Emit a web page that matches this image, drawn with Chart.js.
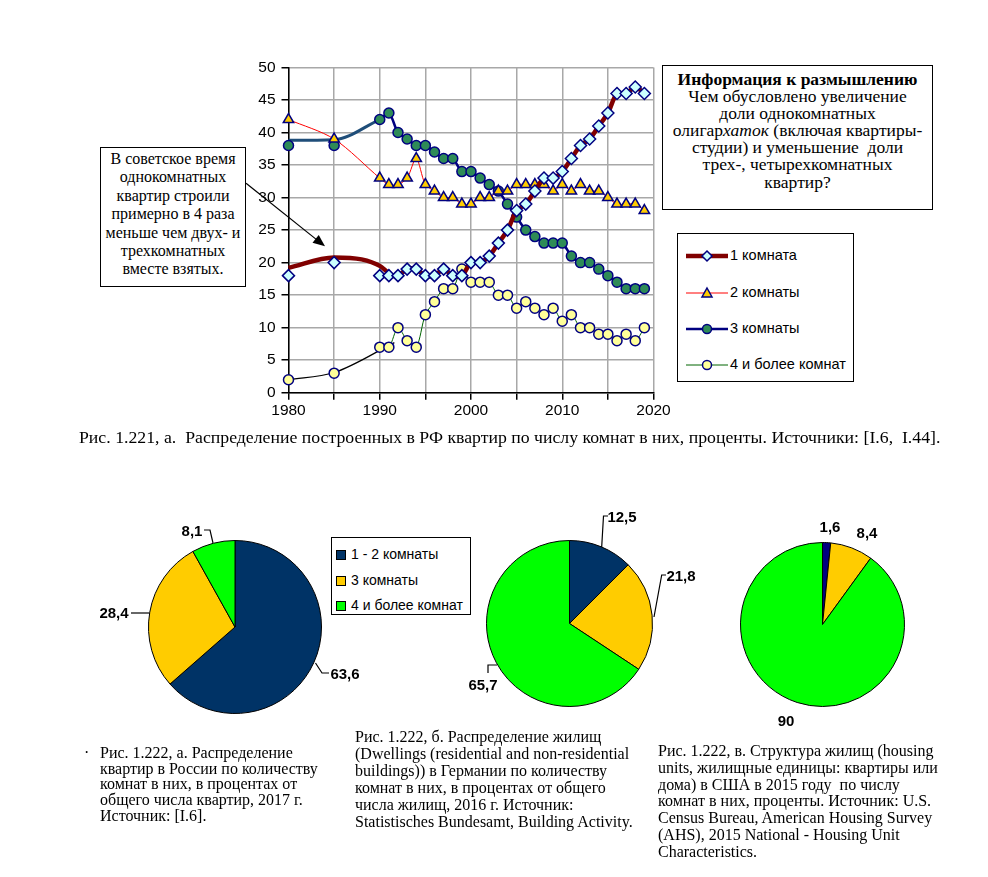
<!DOCTYPE html>
<html lang="ru">
<head>
<meta charset="utf-8">
<title>Распределение квартир по числу комнат</title>
<script src="https://cdn.jsdelivr.net/npm/chart.js@4.4.0/dist/chart.umd.min.js"></script>
<style>
  html, body { margin: 0; padding: 0; background: #fff; }
  body { width: 988px; height: 877px; position: relative; overflow: hidden;
         font-family: "Liberation Serif", "Times New Roman", serif; color: #000; }
  canvas { position: absolute; }
  .box { position: absolute; border: 1.5px solid #000; background: #fff; box-sizing: border-box; text-align: center; }
  .box div { white-space: nowrap; }
  #note { left: 100px; top: 147px; width: 146px; height: 140px; font-size: 16px; line-height: 18.4px; padding-top: 2px; }
  #info { left: 662px; top: 65px; width: 271px; height: 145px; font-size: 17.5px; line-height: 17.1px; padding-top: 5px; }
  #legend { left: 677px; top: 233px; width: 177px; height: 149px; text-align: left;
            font-family: "Liberation Sans", Arial, sans-serif; font-size: 14.5px; }
  #legend .item { position: absolute; left: 8px; height: 16px; line-height: 16px; }
  #legend svg { vertical-align: middle; margin-right: 2px; }
  #pieLegend { left: 331px; top: 537px; width: 140px; height: 78px; text-align: left;
               font-family: "Liberation Sans", Arial, sans-serif; font-size: 14px; }
  #pieLegend .item { position: absolute; left: 4px; height: 16px; line-height: 16px; }
  #pieLegend .sw { display: inline-block; width: 8px; height: 8px; border: 1px solid #000; margin-right: 5px; vertical-align: -1px; }
  .plabel { position: absolute; transform: translate(-50%, -50%); font-family: "Liberation Sans", Arial, sans-serif;
            font-weight: bold; font-size: 15px; white-space: nowrap; }
  .cap { position: absolute; font-size: 16px; white-space: nowrap; }
  #cap1 { left: 79px; top: 429px; transform-origin: 0 0; }
  #bullet { left: 84px; top: 745px; line-height: 15.7px; }
  #capA { left: 100px; top: 745px; line-height: 15.7px; }
  #capB { left: 355px; top: 728px; line-height: 17px; }
  #capC { left: 658px; top: 743px; line-height: 16.8px; }
</style>
</head>
<body>

<canvas id="lineChart" width="988" height="430" style="left:0;top:0"></canvas>

<div class="box" id="note">
  <div>В советское время</div>
  <div>однокомнатных</div>
  <div>квартир строили</div>
  <div>примерно в 4 раза</div>
  <div>меньше чем двух- и</div>
  <div>трехкомнатных</div>
  <div>вместе взятых.</div>
</div>

<div class="box" id="info">
  <div><b>Информация к размышлению</b></div>
  <div>Чем обусловлено увеличение</div>
  <div>доли однокомнатных</div>
  <div>олигар<i>хаток</i> (включая квартиры-</div>
  <div>студии) и уменьшение&nbsp; доли</div>
  <div>трех-, четырехкомнатных</div>
  <div>квартир?</div>
</div>

<div class="box" id="legend"></div>

<div class="cap" id="cap1">Рис. 1.221, а.&nbsp; Распределение построенных в РФ квартир по числу комнат в них, проценты. Источники: [I.6,&nbsp; I.44].</div>

<canvas id="pie1" width="174" height="174" style="left:148px;top:540px"></canvas>
<canvas id="pie2" width="167" height="167" style="left:486px;top:540px"></canvas>
<canvas id="pie3" width="165" height="165" style="left:740px;top:542px"></canvas>

<div class="box" id="pieLegend"></div>

<svg width="988" height="877" style="position:absolute;left:0;top:0;pointer-events:none">
  <g stroke="#000" stroke-width="1.2" fill="none">
    <polyline points="204,530 210,530 213,543"/>
    <polyline points="131,613 149.5,613"/>
    <polyline points="315.5,663 322,673 329,673"/>
    <polyline points="608,516 603.5,516 601.7,547"/>
    <polyline points="666,575 661.7,575 654,617"/>
    <polyline points="488,673 488,665 497,665"/>
  </g>
</svg>

<div id="pieLabels"></div>

<div class="cap" id="bullet">·</div>
<div class="cap" id="capA">Рис. 1.222, а. Распределение<br>
квартир в России по количеству<br>
комнат в них, в процентах от<br>
общего числа квартир, 2017 г.<br>
Источник: [I.6].</div>

<div class="cap" id="capB">Рис. 1.222, б. Распределение жилищ<br>
(Dwellings (residential and non-residential<br>
buildings)) в Германии по количеству<br>
комнат в них, в процентах от общего<br>
числа жилищ, 2016 г. Источник:<br>
Statistisches Bundesamt, Building Activity.</div>

<div class="cap" id="capC">Рис. 1.222, в. Структура жилищ (housing<br>
units, жилищные единицы: квартиры или<br>
дома) в США в 2015 году&nbsp; по числу<br>
комнат в них, проценты. Источник: U.S.<br>
Census Bureau, American Housing Survey<br>
(AHS), 2015 National - Housing Unit<br>
Characteristics.</div>

<script>
// годы наблюдений
const years = [1980, 1985, 1990, 1991, 1992, 1993, 1994, 1995, 1996, 1997, 1998, 1999,
               2000, 2001, 2002, 2003, 2004, 2005, 2006, 2007, 2008, 2009,
               2010, 2011, 2012, 2013, 2014, 2015, 2016, 2017, 2018, 2019];

// доли квартир, %
const oneRoom   = [18, 20, 18, 18, 18, 19, 19, 18, 18, 19, 18, 18,
                   20, 20, 21, 23, 25, 28, 29, 31, 33, 33,
                   34, 36, 38, 39, 41, 43, 46, 46, 47, 46];
const twoRooms  = [42, 39, 33, 32, 32, 33, 36, 32, 31, 30, 30, 29,
                   29, 30, 30, 31, 31, 32, 32, 32, 32, 31,
                   32, 31, 32, 31, 31, 30, 29, 29, 29, 28];
const threeRooms = [38, 38, 42, 43, 40, 39, 38, 38, 37, 36, 36, 34,
                    34, 33, 32, 31, 29, 27, 25, 24, 23, 23,
                    23, 21, 20, 20, 19, 18, 17, 16, 16, 16];
const fourRooms = [2, 3, 7, 7, 10, 8, 7, 12, 14, 16, 16, 19,
                   17, 17, 17, 15, 15, 13, 14, 13, 12, 13,
                   11, 12, 10, 10, 9, 9, 8, 9, 8, 10];

// нарисованные от руки кривые советского периода
const trendOneYears = [1980, 1985, 1988, 1990, 1990.8];
const trendOne = [19.2, 20.8, 20.5, 19.5, 18.6];
const trendThreeYears = [1980, 1985, 1990];
const trendThree = [38.8, 38.9, 42];
const trendFourYears = [1980, 1985, 1991.6];
const trendFour = [2, 3.1, 7.7];

const seriesNames = ['1 комната', '2 комнаты', '3 комнаты', '4 и более комнат'];
const yTicks = [0, 5, 10, 15, 20, 25, 30, 35, 40, 45, 50];

// стрелка от подписи (год, %)
const arrowFrom = [1975.35, 32.2];
const arrowTo = [1984.0, 22.5];

// круговые диаграммы
const pieCategories = ['1 - 2 комнаты', '3 комнаты', '4 и более комнат'];
const russia2017 = [63.6, 28.4, 8.1];
const germanyCategories = ['1 комната', '2 комнаты', '3 и более'];
const germany2016 = [12.5, 21.8, 65.7];
const usa2015 = [1.6, 8.4, 90];

const toXY = (xs, ys) => xs.map((x, i) => ({ x: x, y: ys[i] }));
const hideBefore = yr => ({ borderColor: ctx => ctx.p0.parsed.x < yr ? 'rgba(0,0,0,0)' : undefined });

const styles = [
  { line: '#800000', width: 4.5, point: 'rectRot', radius: 6, fill: '#ccffff' },
  { line: '#ff0000', width: 1, point: 'triangle', radius: 6, fill: '#ffcc00' },
  { line: '#000080', width: 2.5, point: 'circle', radius: 5, fill: '#2e8b57' },
  { line: '#006400', width: 1, point: 'circle', radius: 5, fill: '#ffff99' }
];

const arrowPlugin = {
  id: 'arrow',
  afterDatasetsDraw(chart) {
    const { ctx, scales: { x, y } } = chart;
    const x0 = x.getPixelForValue(arrowFrom[0]), y0 = y.getPixelForValue(arrowFrom[1]);
    const x1 = x.getPixelForValue(arrowTo[0]), y1 = y.getPixelForValue(arrowTo[1]);
    const a = Math.atan2(y1 - y0, x1 - x0);
    ctx.save();
    ctx.strokeStyle = '#000';
    ctx.fillStyle = '#000';
    ctx.lineWidth = 1.2;
    ctx.beginPath();
    ctx.moveTo(x0, y0);
    ctx.lineTo(x1 - 8 * Math.cos(a), y1 - 8 * Math.sin(a));
    ctx.stroke();
    ctx.beginPath();
    ctx.moveTo(x1, y1);
    ctx.lineTo(x1 - 12 * Math.cos(a) + 5 * Math.sin(a), y1 - 12 * Math.sin(a) - 5 * Math.cos(a));
    ctx.lineTo(x1 - 12 * Math.cos(a) - 5 * Math.sin(a), y1 - 12 * Math.sin(a) + 5 * Math.cos(a));
    ctx.closePath();
    ctx.fill();
    ctx.restore();
  }
};

const seriesData = [oneRoom, twoRooms, threeRooms, fourRooms];
const hideYears = [1990, 1979, 1990, 1991];

const datasets = seriesData.map((vals, i) => ({
  label: seriesNames[i],
  data: toXY(years, vals),
  borderColor: styles[i].line,
  borderWidth: styles[i].width,
  pointStyle: styles[i].point,
  pointRadius: styles[i].radius,
  pointBackgroundColor: styles[i].fill,
  pointBorderColor: '#000080',
  pointBorderWidth: 1.5,
  tension: 0.3,
  clip: false,
  segment: hideBefore(hideYears[i])
}));

const trends = [
  { data: toXY(trendOneYears, trendOne), color: '#800000', width: 4.5 },
  { data: toXY(trendThreeYears, trendThree), color: '#1f4e79', width: 3 },
  { data: toXY(trendFourYears, trendFour), color: '#000000', width: 1.2 }
];
trends.forEach(t => datasets.push({
  label: '',
  data: t.data,
  borderColor: t.color,
  borderWidth: t.width,
  pointRadius: 0,
  clip: false,
  cubicInterpolationMode: 'monotone'
}));

new Chart(document.getElementById('lineChart'), {
  type: 'line',
  data: { datasets: datasets },
  options: {
    responsive: false,
    animation: false,
    devicePixelRatio: 1,
    layout: { padding: { left: 248.5, right: 334.5, top: 67.5, bottom: 5.3 } },
    plugins: { legend: { display: false }, tooltip: { enabled: false } },
    scales: {
      x: {
        type: 'linear', min: 1980, max: 2020,
        afterFit: s => { s.height = 32; },
        grid: { color: '#a8a8a8', lineWidth: 1.5, tickColor: '#000', tickLength: 7 },
        border: { color: '#000', width: 1.5 },
        ticks: {
          stepSize: 5, autoSkip: false, maxRotation: 0, padding: 2, color: '#000',
          font: { family: '"Liberation Sans", Arial, sans-serif', size: 15.5 },
          callback: v => v % 10 === 0 ? String(v) : ''
        }
      },
      y: {
        min: 0, max: 50,
        afterFit: s => { s.width = 40; },
        afterBuildTicks: s => { s.ticks = yTicks.map(v => ({ value: v })); },
        grid: { color: '#a8a8a8', lineWidth: 1.5, tickColor: '#000', tickLength: 7 },
        border: { color: '#000', width: 1.5 },
        ticks: {
          padding: 6, color: '#000',
          font: { family: '"Liberation Sans", Arial, sans-serif', size: 15.5 }
        }
      }
    }
  },
  plugins: [arrowPlugin]
});

// легенда линейного графика
const legend = document.getElementById('legend');
const legendTops = [13, 50, 86, 122];
const markerSvg = (st) => {
  let m = '';
  if (st.point === 'rectRot') m = '<polygon points="21,2 26,7 21,12 16,7" fill="' + st.fill + '" stroke="#000080" stroke-width="1.5"/>';
  else if (st.point === 'triangle') m = '<polygon points="21,2 26,11 16,11" fill="' + st.fill + '" stroke="#000080" stroke-width="1.5"/>';
  else m = '<circle cx="21" cy="7" r="4.5" fill="' + st.fill + '" stroke="#000080" stroke-width="1.5"/>';
  return '<svg width="42" height="14"><line x1="0" y1="7" x2="42" y2="7" stroke="' + st.line + '" stroke-width="' + st.width + '"/>' + m + '</svg>';
};
seriesNames.forEach((name, i) => {
  const d = document.createElement('div');
  d.className = 'item';
  d.style.top = legendTops[i] + 'px';
  d.innerHTML = markerSvg(styles[i]) + name;
  legend.appendChild(d);
});

// круговые диаграммы
const pieOpts = {
  responsive: false, animation: false, devicePixelRatio: 1,
  layout: { padding: 0 },
  plugins: { legend: { display: false }, tooltip: { enabled: false } }
};
const makePie = (id, labels, values, colors) => new Chart(document.getElementById(id), {
  type: 'pie',
  data: { labels: labels, datasets: [{ data: values, backgroundColor: colors, borderColor: '#000', borderWidth: 1 }] },
  options: pieOpts
});
const pieColors = ['#003366', '#ffcc00', '#00ff00'];
makePie('pie1', pieCategories, russia2017, pieColors);
makePie('pie2', germanyCategories, germany2016, pieColors);
makePie('pie3', pieCategories, usa2015, ['#000080', '#ffcc00', '#00ff00']);

const pieLegend = document.getElementById('pieLegend');
const pieLegendTops = [8, 34, 59];
pieCategories.forEach((name, i) => {
  const d = document.createElement('div');
  d.className = 'item';
  d.style.top = pieLegendTops[i] + 'px';
  d.innerHTML = '<span class="sw" style="background:' + pieColors[i] + '"></span>' + name;
  pieLegend.appendChild(d);
});

// подписи значений
const fmt = v => String(v).replace('.', ',');
const labelPos = [
  [russia2017, [[345, 673], [114, 612], [192, 530]]],
  [germany2016, [[622, 516], [681, 575], [483, 684]]],
  [usa2015, [[830, 526], [867, 532], [786, 720]]]
];
const holder = document.getElementById('pieLabels');
labelPos.forEach(([vals, pos]) => {
  vals.forEach((v, i) => {
    const d = document.createElement('div');
    d.className = 'plabel';
    d.style.left = pos[i][0] + 'px';
    d.style.top = pos[i][1] + 'px';
    d.textContent = fmt(v);
    holder.appendChild(d);
  });
});

// подгонка ширины главной подписи
const cap1 = document.getElementById('cap1');
cap1.style.transform = 'scaleX(' + (861 / cap1.offsetWidth) + ')';
</script>
</body>
</html>
